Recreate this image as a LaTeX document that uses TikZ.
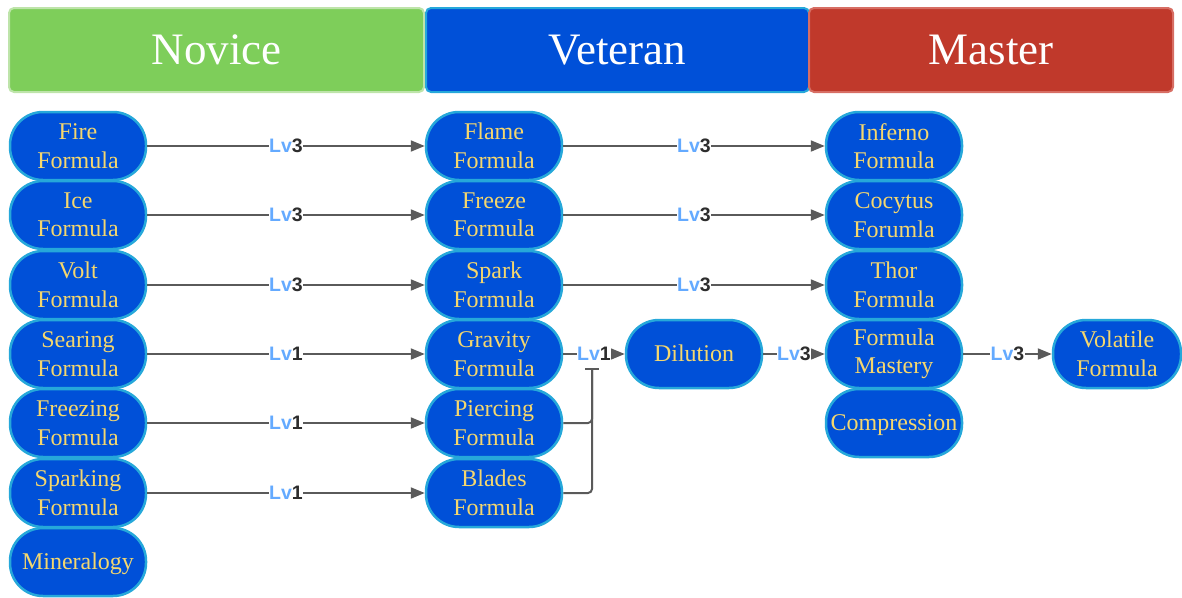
\documentclass[tikz,border=0pt]{standalone}
\usepackage{fontspec}
\setmainfont{Liberation Serif}
\newfontfamily\lvfont{Liberation Sans}
\usetikzlibrary{arrows.meta}
\definecolor{nodeblue}{RGB}{0,80,216}
\definecolor{nodeedge}{RGB}{38,168,218}
\definecolor{nodetext}{RGB}{245,215,110}
\definecolor{headgreen}{RGB}{126,206,90}
\definecolor{headgreenedge}{RGB}{190,228,170}
\definecolor{headred}{RGB}{192,57,43}
\definecolor{headrededge}{RGB}{215,110,100}
\definecolor{lvblue}{RGB}{100,170,255}
\definecolor{lvgray}{RGB}{45,45,45}
\definecolor{linkgray}{RGB}{90,90,90}
\newcommand\lvtag[1]{\textcolor{lvblue}{Lv}\textcolor{lvgray}{#1}}
\begin{document}
\begin{tikzpicture}[x=1pt,y=-1pt,
  skill/.style={draw=nodeedge, fill=nodeblue, line width=2.5pt, rounded corners=33pt,
    minimum width=136pt, minimum height=68pt, text=nodetext, align=center,
    font=\fontsize{24}{28.5}\selectfont, inner sep=0pt},
  oneline/.style={text height=16pt, text depth=2pt},
  header/.style={line width=2pt, rounded corners=5pt, minimum height=84pt,
    text=white, font=\fontsize{45}{45}\selectfont, inner sep=0pt},
  link/.style={draw=linkgray, line width=2pt, -{Triangle[length=14pt,width=11pt]}},
  lv/.style={fill=white, inner sep=0.5pt, font=\lvfont\bfseries\fontsize{19.5}{19.5}\selectfont}]
\useasboundingbox (0,0) rectangle (1182,597);

% tier headers
\node[header, draw=headgreenedge, fill=headgreen, minimum width=415pt] (novice) at (216.5,50) {Novice};
\node[header, draw=nodeedge, fill=nodeblue, minimum width=383pt] (veteran) at (617.5,50) {Veteran};
\node[header, draw=headrededge, fill=headred, minimum width=364pt] (master) at (991,50) {Master};

% novice column
\node[skill] (fire)     at (78,146) {Fire\\Formula};
\node[skill] (ice)      at (78,215) {Ice\\Formula};
\node[skill] (volt)     at (78,285) {Volt\\Formula};
\node[skill] (searing)  at (78,354) {Searing\\Formula};
\node[skill] (freezing) at (78,423) {Freezing\\Formula};
\node[skill] (sparking) at (78,493) {Sparking\\Formula};
\node[skill, oneline] (mineral)  at (78,562) {Mineralogy};

% veteran column
\node[skill] (flame)    at (494,146) {Flame\\Formula};
\node[skill] (freeze)   at (494,215) {Freeze\\Formula};
\node[skill] (spark)    at (494,285) {Spark\\Formula};
\node[skill] (gravity)  at (494,354) {Gravity\\Formula};
\node[skill] (piercing) at (494,423) {Piercing\\Formula};
\node[skill] (blades)   at (494,493) {Blades\\Formula};
\node[skill, oneline] (dilution) at (694,354) {Dilution};

% master column
\node[skill] (inferno)  at (894,146) {Inferno\\Formula};
\node[skill] (cocytus)  at (894,215) {Cocytus\\Forumla};
\node[skill] (thor)     at (894,285) {Thor\\Formula};
\node[skill] (mastery)  at (894,354) {Formula\\Mastery};
\node[skill, oneline] (compress) at (894,423) {Compression};
\node[skill, minimum width=128pt] (volatile) at (1117,354) {Volatile\\Formula};

% upgrade links
\draw[link] (fire) -- node[lv]{\lvtag{3}} (flame);
\draw[link] (ice) -- node[lv]{\lvtag{3}} (freeze);
\draw[link] (volt) -- node[lv]{\lvtag{3}} (spark);
\draw[link] (searing) -- node[lv]{\lvtag{1}} (gravity);
\draw[link] (freezing) -- node[lv]{\lvtag{1}} (piercing);
\draw[link] (sparking) -- node[lv]{\lvtag{1}} (blades);

\draw[link] (flame) -- node[lv]{\lvtag{3}} (inferno);
\draw[link] (freeze) -- node[lv]{\lvtag{3}} (cocytus);
\draw[link] (spark) -- node[lv]{\lvtag{3}} (thor);

% merge of the three veteran formulas into Dilution
\coordinate (join) at (592,368);
\draw[link, rounded corners=4pt, -{Bar[width=14pt,line width=2pt]}] (piercing.east) -| (join);
\draw[link, rounded corners=4pt, -{Bar[width=14pt,line width=2pt]}] (blades.east) -| (join);
\draw[link] (gravity) -- node[lv]{\lvtag{1}} (dilution);
\draw[link] (dilution) -- node[lv]{\lvtag{3}} (mastery);
\draw[link] (mastery) -- node[lv]{\lvtag{3}} (volatile);
\end{tikzpicture}
\end{document}
